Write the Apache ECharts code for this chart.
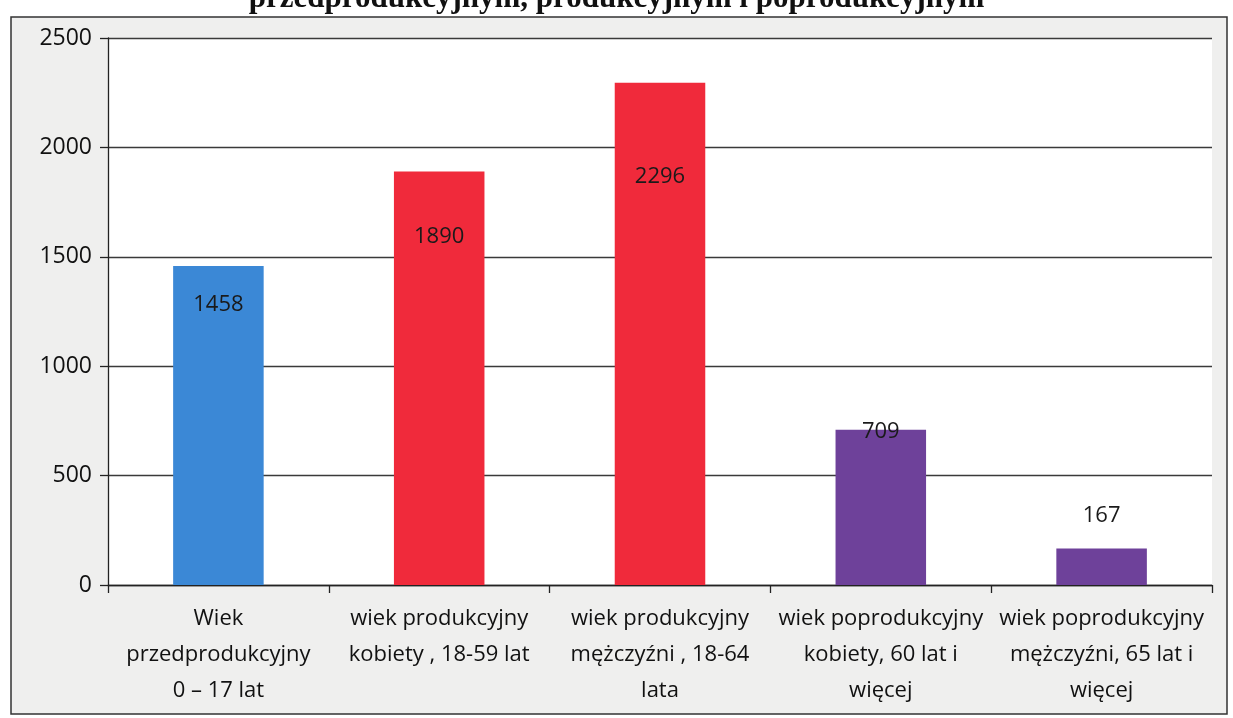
<!DOCTYPE html>
<html>
<head>
<meta charset="utf-8">
<style>
  html, body { margin: 0; padding: 0; background: #ffffff; }
  #chart { width: 1233px; height: 718px; }
</style>
<script src="https://cdn.jsdelivr.net/npm/echarts@6/dist/echarts.min.js"></script>
</head>
<body>
<div id="chart"></div>
<script>
// ---- data ----
const titleText = 'przedprodukcyjnym, produkcyjnym i poprodukcyjnym';
const categories = [
  'Wiek\nprzedprodukcyjny\n0 – 17 lat',
  'wiek produkcyjny\nkobiety , 18-59 lat',
  'wiek produkcyjny\nmężczyźni , 18-64\nlata',
  'wiek poprodukcyjny\nkobiety, 60 lat i\nwięcej',
  'wiek poprodukcyjny\nmężczyźni, 65 lat i\nwięcej'
];
const values = [1458, 1890, 2296, 709, 167];
const yTicks = [0, 500, 1000, 1500, 2000, 2500];

// ---- styles ----
const barColors = ['#3b88d6', '#f02a3b', '#f02a3b', '#6e419a', '#6e419a'];
const labelPos = ['insideTop', 'insideTop', 'insideTop', 'top', 'top'];
const labelDist = [28, 54, 83, -13, 22];

const chart = echarts.init(document.getElementById('chart'), null, { renderer: 'canvas' });

const seriesData = values.map((v, i) => ({
  value: v,
  itemStyle: { color: barColors[i] },
  label: { position: labelPos[i], distance: labelDist[i] }
}));

const option = {
  animation: false,
  backgroundColor: '#ffffff',
  title: {
    text: titleText,
    left: 'center',
    top: -22,
    textStyle: {
      fontFamily: '"Liberation Serif", "DejaVu Serif", serif',
      fontWeight: 'bold',
      fontSize: 31,
      color: '#111'
    }
  },
  graphic: [
    {
      type: 'rect',
      z: -10,
      shape: { x: 11, y: 17, width: 1216, height: 697 },
      style: { fill: '#efefee', stroke: '#333', lineWidth: 1.5 }
    }
  ],
  grid: {
    left: 108, right: 21, top: 38, bottom: 133,
    show: true, backgroundColor: '#ffffff', borderWidth: 0
  },
  xAxis: {
    type: 'category',
    data: categories,
    boundaryGap: true,
    axisLine: { show: true, lineStyle: { color: '#222', width: 1.3 } },
    axisTick: { show: true, length: 8, alignWithLabel: false, lineStyle: { color: '#222', width: 1.3 } },
    axisLabel: {
      interval: 0,
      margin: 16,
      fontFamily: '"Open Sans", "Noto Sans", sans-serif',
      fontSize: 22,
      lineHeight: 36,
      color: '#111'
    }
  },
  yAxis: {
    type: 'value',
    min: 0, max: 2500, interval: 500,
    axisLine: { show: true, lineStyle: { color: '#222', width: 1.3 } },
    axisTick: { show: true, length: 8, lineStyle: { color: '#222', width: 1.3 } },
    axisLabel: {
      margin: 16,
      fontFamily: '"Open Sans", "Noto Sans", sans-serif',
      fontSize: 23,
      color: '#111',
      formatter: (v) => yTicks.includes(v) ? String(v) : ''
    },
    splitLine: { show: true, lineStyle: { color: '#3a3a3a', width: 1.3 } }
  },
  series: [{
    type: 'bar',
    data: seriesData,
    barWidth: '41%',
    label: {
      show: true,
      fontFamily: '"Open Sans", "Noto Sans", sans-serif',
      fontSize: 22,
      color: '#1a1a1a'
    }
  }]
};

chart.setOption(option);
</script>
</body>
</html>
